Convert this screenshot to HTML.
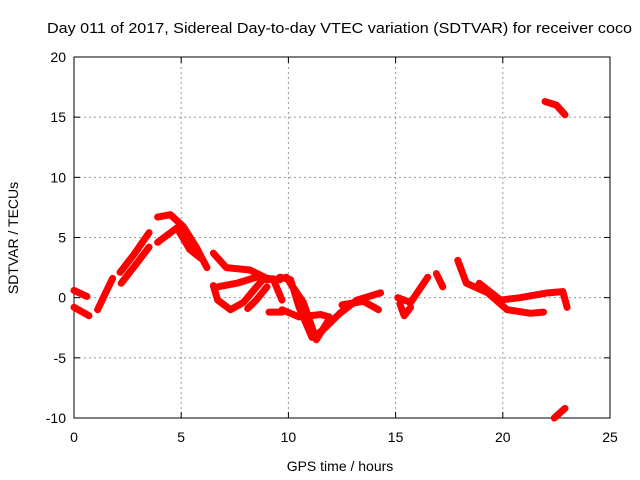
<!DOCTYPE html>
<html><head><meta charset="utf-8"><style>
body{margin:0;background:#fff}
svg{display:block;font-family:"Liberation Sans",sans-serif}
</style></head><body>
<svg id="chart" width="640" height="480">
<text x="47" y="33" font-size="15" textLength="585" lengthAdjust="spacingAndGlyphs">Day 011 of 2017, Sidereal Day-to-day VTEC variation (SDTVAR) for receiver coco</text>
<g id="grid"></g><g id="axes"></g><g id="data"></g>
<text x="340" y="471" font-size="14" text-anchor="middle">GPS time / hours</text>
<text transform="translate(18,238) rotate(-90)" font-size="14" text-anchor="middle">SDTVAR / TECUs</text>
</svg>
<script>
const xTicks=[0,5,10,15,20,25];
const yTicks=[-10,-5,0,5,10,15,20];
const tracks=[
[[0,0.6],[0.6,0.1]],
[[0,-0.8],[0.7,-1.5]],
[[1.1,-1],[1.5,0.5],[1.8,1.6]],
[[2.15,2.1],[2.8,3.6],[3.5,5.4]],
[[2.2,1.2],[2.9,2.8],[3.5,4.2]],
[[3.9,6.7],[4.5,6.9],[5.1,5.9],[5.7,4.2],[6.2,2.5]],
[[3.9,4.6],[4.8,5.8],[5.4,4.0],[5.9,3.3]],
[[6.5,3.7],[7.1,2.5],[8.2,2.3],[9,1.6],[9.6,1.5]],
[[6.5,1.0],[6.7,-0.2],[7.3,-1.0],[7.9,-0.4],[8.8,1.5],[9.6,1.5]],
[[6.7,0.9],[7.6,1.2],[8.5,1.7],[9.3,1.5],[9.7,-0.2]],
[[8.1,-0.9],[8.5,-0.2],[9,0.9]],
[[9.1,-1.2],[9.7,-1.2]],
[[9.9,1.7],[10.7,-0.4],[11.3,-3.5],[11.9,-1.8]],
[[9.6,1.7],[10.1,1.5],[10.5,-0.8],[11.1,-3.3],[11.6,-2.7],[12.4,-1.3],[13.2,-0.2],[14.3,0.4]],
[[9.7,-1],[10.5,-1.6],[11.5,-1.4],[11.9,-1.6]],
[[12.5,-0.6],[13.5,-0.3],[14.2,-1.0]],
[[15.1,0],[15.7,-0.4],[16.5,1.7]],
[[15.2,-0.5],[15.4,-1.5],[15.7,-0.8]],
[[16.9,2.0],[17.2,0.9]],
[[17.9,3.1],[18.3,1.2],[19.3,0.4],[20.2,-1],[21.3,-1.3],[21.9,-1.2]],
[[18.9,1.2],[19.9,-0.2],[20.8,0],[22.1,0.4],[22.8,0.5],[23,-0.8]],
[[21.97,16.3],[22.5,16.0],[22.9,15.2]],
[[22.4,-10],[22.9,-9.2]]
];
const X0=74,X1=610,Y0=418,Y1=57;
const sx=h=>X0+(h-0)/25*(X1-X0);
const sy=v=>Y0-(v+10)/30*(Y0-Y1);
const NS="http://www.w3.org/2000/svg";
function mk(t,a,p){const e=document.createElementNS(NS,t);for(const k in a)e.setAttribute(k,a[k]);p.appendChild(e);return e;}
const grid=document.getElementById('grid'),axes=document.getElementById('axes'),data=document.getElementById('data');
xTicks.forEach(t=>{
 const x=sx(t);
 if(t>0&&t<25){const g=mk('line',{x1:x,x2:x,y1:Y1,y2:Y0,stroke:'#999','stroke-dasharray':'2,3'},grid);
 
 }
 mk('line',{x1:x,x2:x,y1:Y0,y2:Y0-6,stroke:'#000'},axes);
 mk('line',{x1:x,x2:x,y1:Y1,y2:Y1+6,stroke:'#000'},axes);
 const l=mk('text',{x:x,y:Y0+24,'font-size':14,'text-anchor':'middle'},axes);l.textContent=t;
 
 
});
yTicks.forEach(t=>{
 const y=sy(t);
 if(t>-10&&t<20){const g=mk('line',{x1:X0,x2:X1,y1:y,y2:y,stroke:'#999','stroke-dasharray':'2,3'},grid);
 
 }
 mk('line',{x1:X0,x2:X0+6,y1:y,y2:y,stroke:'#000'},axes);
 mk('line',{x1:X1,x2:X1-6,y1:y,y2:y,stroke:'#000'},axes);
 const l=mk('text',{x:X0-8,y:y+5,'font-size':14,'text-anchor':'end'},axes);l.textContent=t;
 
 
});
const fr=mk('rect',{x:X0,y:Y1,width:X1-X0,height:Y0-Y1,fill:'none',stroke:'#000'},axes);


tracks.forEach(tr=>{
 const p=mk('polyline',{points:tr.map(d=>sx(d[0])+','+sy(d[1])).join(' '),fill:'none',stroke:'#f00','stroke-width':7,'stroke-linejoin':'round','stroke-linecap':'round'},data);
 
 
});
</script>
</body></html>
